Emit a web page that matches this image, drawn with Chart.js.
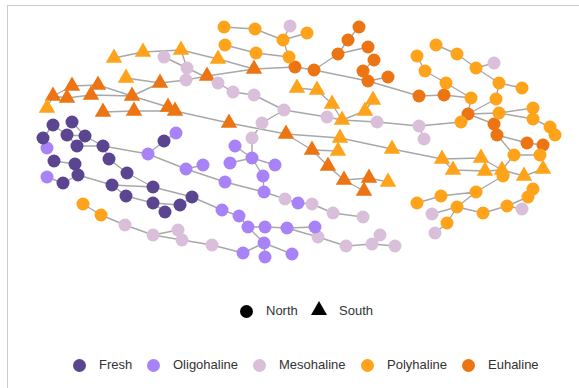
<!DOCTYPE html>
<html>
<head>
<meta charset="utf-8">
<script src="https://cdn.jsdelivr.net/npm/chart.js@4.4.1/dist/chart.umd.min.js"></script>
<style>
  body { margin: 0; width: 579px; height: 388px; overflow: hidden; background: #fff; position: relative;
         font-family: "Liberation Sans", Arial, sans-serif; }
  .frame { position: absolute; left: 7px; top: 5px; width: 700px; height: 500px; border: 1px solid #ccc; }
  #wrap { position: absolute; left: 0; top: 0; width: 579px; height: 300px; }
  .lg { position: absolute; font-size: 13px; color: #333; line-height: 16px; white-space: nowrap; }
  .dot { position: absolute; width: 13px; height: 13px; border-radius: 50%; }
  .tri { position: absolute; width: 0; height: 0; border-left: 8.5px solid transparent;
         border-right: 8.5px solid transparent; border-bottom: 14px solid #000; }
</style>
</head>
<body>
<div class="frame"></div>
<div id="wrap"><canvas id="net"></canvas></div>
<div id="legends"></div>
<script>
// node layout positions: [id, x, y]
var fresh = [
  ['F1',53,125],['F2',72,122],['F3',43,138],['F4',67,135],['F5',85,136],['F6',77,146],['F7',103,146],
  ['F8',164,141],['F9',54,161],['F10',75,164],['F11',78,175],['F12',109,159],['F13',63,183],['F14',127,173],
  ['F15',112,185],['F16',153,187],['F17',126,196],['F18',153,203],['F19',180,205],['F20',192,197],['F21',165,212]
];
var oligohaline = [
  ['O1',176,133],['O2',47,148],['O3',148,154],['O4',47,177],['O5',186,169],['O6',203,165],['O7',225,182],
  ['O8',222,210],['O9',230,163],['O10',235,146],['O11',252,158],['O12',275,165],['O13',263,176],['O14',264,192],
  ['O15',298,203],['O16',239,216],['O17',248,227],['O18',265,227],['O19',287,228],['O20',315,227],
  ['O21',264,243],['O22',243,253],['O23',265,257],['O24',292,254]
];
var mesohaline = [
  ['M1',164,57],['M2',187,68],['M3',186,80],['M4',218,83],['M5',233,92],['M6',254,95],['M7',284,110],
  ['M8',262,123],['M9',252,138],['M10',327,117],['M11',377,122],['M12',290,26],['M13',419,126],['M14',424,139],
  ['M15',494,63],['M16',432,214],['M17',522,209],['M18',435,233],['M19',125,225],['M20',153,235],['M21',178,230],
  ['M22',182,240],['M23',212,245],['M24',285,199],['M25',312,204],['M26',333,213],['M27',363,217],
  ['M28',318,237],['M29',346,246],['M30',372,244],['M31',380,235],['M32',395,246]
];
var polyNorth = [
  ['P1',224,27],['P2',255,29],['P3',307,33],['P4',283,40],['P5',225,45],['P6',256,53],['P7',289,57],
  ['P8',436,45],['P9',457,54],['P10',417,56],['P11',476,68],['P12',425,71],['P13',446,83],['P14',499,83],
  ['P15',522,88],['P16',471,98],['P17',496,99],['P18',499,113],['P19',533,108],['P20',533,119],['P21',461,122],
  ['P22',550,127],['P23',555,135],['P24',514,155],['P25',540,155],['P26',503,176],['P27',476,192],['P28',441,196],
  ['P29',417,203],['P30',457,207],['P31',483,213],['P32',507,206],['P33',528,197],['P34',533,189],['P35',447,223],
  ['P36',83,204],['P37',101,215]
];
var euNorth = [
  ['E1',295,67],['E2',314,70],['E3',359,27],['E4',348,40],['E5',368,47],['E6',338,54],['E7',374,60],
  ['E8',363,71],['E9',368,81],['E10',388,77],['E11',419,96],['E12',444,95],['E13',468,114],['E14',494,124],
  ['E15',497,135],['E16',527,143],['E17',543,145]
];
var polySouth = [
  ['PT1',114,58],['PT2',143,52],['PT3',181,50],['PT4',218,59],['PT5',126,78],['PT6',47,108],['PT7',297,88],
  ['PT8',317,90],['PT9',332,104],['PT10',373,100],['PT11',365,111],['PT12',342,120],['PT13',340,138],
  ['PT14',338,151],['PT15',392,149],['PT16',388,182],['PT17',442,159],['PT18',481,158],['PT19',453,170],
  ['PT20',485,171],['PT21',502,170],['PT22',524,176],['PT23',543,169]
];
var euSouth = [
  ['ET1',160,83],['ET2',207,76],['ET3',254,69],['ET4',72,86],['ET5',98,85],['ET6',53,96],['ET7',67,98],
  ['ET8',91,95],['ET9',132,96],['ET10',103,112],['ET11',134,111],['ET12',168,107],['ET13',175,111],
  ['ET14',229,123],['ET15',286,134],['ET16',312,150],['ET17',328,166],['ET18',344,180],['ET19',369,178],['ET20',364,191]
];
var links = [
  ['PT1','PT2'],['PT2','PT3'],['PT3','PT4'],['PT4','ET3'],['M1','M2'],['M2','PT3'],['M2','M4'],['M4','M5'],
  ['M5','M6'],['M6','M7'],['M7','M8'],['M8','M9'],['M9','O11'],['M7','M10'],['M10','PT12'],['PT12','M11'],
  ['PT12','PT11'],['PT11','PT10'],['PT9','PT12'],['PT8','PT9'],['PT7','PT8'],['M11','M13'],['M13','M14'],['M13','P21'],
  ['PT5','ET1'],['ET1','M3'],['M3','ET2'],['ET2','ET3'],['ET3','E1'],['E1','E2'],['P7','E1'],['P1','P2'],['P2','P4'],
  ['M12','P4'],['P3','P4'],['P4','P7'],['P5','P6'],['P6','P7'],
  ['E2','E6'],['E6','E4'],['E4','E3'],['E6','E5'],['E2','E9'],['E9','E8'],['E8','E7'],['E9','E10'],['E9','E11'],
  ['E11','E12'],['E12','P16'],['P13','P16'],['P12','P13'],['P10','P12'],['P16','E13'],['E13','P17'],['E13','P18'],
  ['P18','P19'],['P18','P20'],['P20','P22'],['P22','P23'],['E13','E14'],['E14','E15'],['E15','E16'],['E16','E17'],
  ['E13','P21'],['P8','P9'],['P9','P11'],['P11','M15'],['P11','P14'],['P14','P15'],['P14','P17'],
  ['ET6','PT6'],['ET6','ET4'],['ET4','ET5'],['ET6','ET7'],['ET7','ET8'],['ET8','ET9'],['ET5','ET9'],['ET9','ET1'],
  ['ET9','ET12'],['ET12','ET13'],['ET10','ET11'],['ET11','ET13'],['ET13','ET14'],['ET14','ET15'],['ET15','PT13'],
  ['PT13','PT15'],['ET15','ET16'],['ET16','PT14'],['ET16','ET17'],['ET17','ET18'],['ET18','ET19'],['ET18','ET20'],
  ['ET19','PT16'],
  ['PT15','PT17'],['PT17','PT18'],['PT17','PT19'],['PT19','PT20'],['PT20','PT21'],['PT18','PT21'],['PT21','P24'],
  ['PT21','PT22'],['PT22','PT23'],['P24','E15'],['P24','P25'],['P25','E17'],['PT21','P26'],['P26','P27'],
  ['P27','P28'],['P28','P29'],['P27','P30'],['P30','P35'],['P35','M18'],['P30','M16'],['P30','P31'],['P31','P32'],
  ['P32','M17'],['P32','P33'],['P33','P34'],
  ['F1','F4'],['F2','F5'],['F4','F5'],['F4','F6'],['F6','F7'],['F5','F7'],['F3','O2'],['F1','F3'],
  ['F7','O3'],['O3','F8'],['F8','O1'],['O3','O5'],['O5','O6'],['O5','O7'],['O7','O14'],['O14','M24'],['M24','O15'],
  ['O15','M25'],['M25','M26'],['M26','M27'],['O10','O11'],['O9','O11'],['O11','O12'],['O11','O13'],['O13','O14'],
  ['F9','F10'],['F10','F11'],['F11','F13'],['F13','O4'],['F11','F15'],['F15','F16'],['F15','F17'],['F7','F12'],
  ['F12','F14'],['F14','F16'],['F16','F20'],['F20','O8'],['F17','F18'],['F18','F21'],['F18','F19'],['F19','F20'],
  ['O8','O16'],['O16','O17'],['O17','O18'],['O18','O19'],['O19','O20'],['O19','M28'],['M28','M29'],['M29','M30'],
  ['M30','M31'],['M30','M32'],['O17','O21'],['O21','O22'],['O21','O23'],['O21','O24'],['O22','M23'],['M23','M22'],
  ['M22','M20'],['M20','M21'],['M20','M19'],['M19','P37'],['P37','P36']
];

var colors = { fresh: '#5b4591', oligo: '#a883f8', meso: '#d9bfda', poly: '#fea31a', eu: '#ec7412' };

var pos = {};
[fresh, oligohaline, mesohaline, polyNorth, euNorth, polySouth, euSouth].forEach(function (g) {
  g.forEach(function (n) { pos[n[0]] = { x: n[1], y: n[2] }; });
});
var linkPoints = [];
links.forEach(function (l) {
  linkPoints.push(pos[l[0]], pos[l[1]], { x: NaN, y: NaN });
});

function nodeSet(group, color, shape) {
  return {
    data: group.map(function (n) { return { x: n[1], y: n[2] }; }),
    pointStyle: shape,
    pointRadius: shape === 'triangle' ? 9.5 : 6.5,
    pointHoverRadius: shape === 'triangle' ? 9.5 : 6.5,
    backgroundColor: color,
    borderColor: color,
    borderWidth: 0,
    showLine: false,
    order: 1
  };
}

new Chart(document.getElementById('net'), {
  type: 'scatter',
  data: {
    datasets: [
      nodeSet(fresh, colors.fresh, 'circle'),
      nodeSet(oligohaline, colors.oligo, 'circle'),
      nodeSet(mesohaline, colors.meso, 'circle'),
      nodeSet(polyNorth, colors.poly, 'circle'),
      nodeSet(euNorth, colors.eu, 'circle'),
      nodeSet(polySouth, colors.poly, 'triangle'),
      nodeSet(euSouth, colors.eu, 'triangle'),
      {
        data: linkPoints,
        showLine: true,
        spanGaps: false,
        pointRadius: 0,
        borderColor: '#a8a8a8',
        borderWidth: 1.4,
        order: 5
      }
    ]
  },
  options: {
    responsive: true,
    maintainAspectRatio: false,
    animation: false,
    layout: { padding: 0, autoPadding: false },
    plugins: { legend: { display: false }, tooltip: { enabled: false } },
    scales: {
      x: { type: 'linear', min: 0, max: 579, display: false },
      y: { type: 'linear', min: 0, max: 300, reverse: true, display: false }
    }
  }
});

// legends
var shapeLegend = [['North', 'dot', 246, 266], ['South', 'tri', 319, 339]];
var classLegend = [['Fresh', colors.fresh, 79, 99], ['Oligohaline', colors.oligo, 153, 173],
  ['Mesohaline', colors.meso, 259, 279], ['Polyhaline', colors.poly, 367, 387], ['Euhaline', colors.eu, 468, 488]];
var box = document.getElementById('legends');
function add(html) { box.insertAdjacentHTML('beforeend', html); }
shapeLegend.forEach(function (s) {
  if (s[1] === 'dot') add('<div class="dot" style="left:' + (s[2] - 6.5) + 'px;top:' + (311 - 6.5) + 'px;background:#000"></div>');
  else add('<div class="tri" style="left:' + (s[2] - 8.5) + 'px;top:301px"></div>');
  add('<div class="lg" style="left:' + s[3] + 'px;top:303px">' + s[0] + '</div>');
});
classLegend.forEach(function (c) {
  add('<div class="dot" style="left:' + (c[2] - 6.5) + 'px;top:' + (365 - 6.5) + 'px;background:' + c[1] + '"></div>');
  add('<div class="lg" style="left:' + c[3] + 'px;top:357px">' + c[0] + '</div>');
});
</script>
</body>
</html>
